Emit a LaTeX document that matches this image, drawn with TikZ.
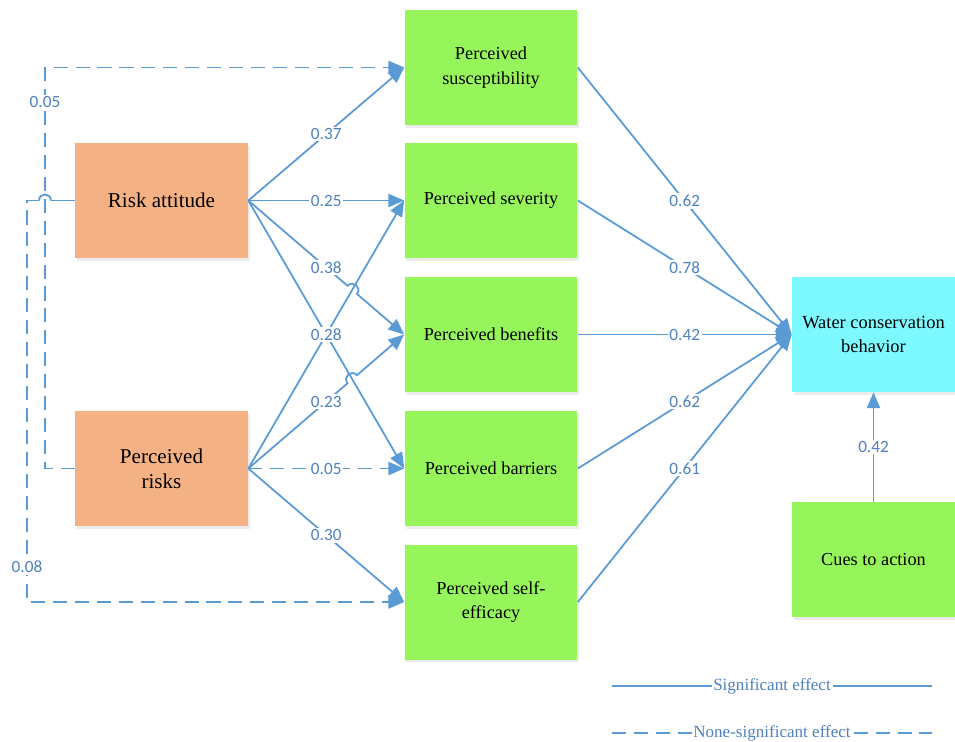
\documentclass[tikz,border=0pt]{standalone}
\usepackage{fontspec}
\setmainfont{Liberation Serif}
\newfontfamily\numfont{Carlito}
\usetikzlibrary{arrows.meta,calc,shadows}
\definecolor{peach}{RGB}{244,177,131}
\definecolor{lime}{RGB}{150,245,90}
\definecolor{aqua}{RGB}{125,250,255}
\definecolor{edge}{RGB}{91,155,213}
\definecolor{numblue}{RGB}{79,129,189}
\tikzset{
  cell/.style={minimum width=3.46cm, minimum height=2.3cm, align=center, inner sep=2pt,
    drop shadow={shadow xshift=1pt, shadow yshift=-1.5pt, opacity=0.15}},
  factor/.style={cell, fill=peach, font=\fontsize{12}{14}\selectfont},
  belief/.style={cell, fill=lime, font=\fontsize{10.4}{14}\selectfont},
  outcome/.style={cell, fill=aqua, minimum width=3.26cm, font=\fontsize{10.5}{14}\selectfont},
  link/.style={draw=edge, line width=1pt},
  sig/.style={link, -{Triangle[length=9pt,width=7.5pt]}},
  nsig/.style={sig, dash pattern=on 8pt off 4.5pt},
  hop/.style={link, looseness=1.7},
  coef/.style={fill=white, inner sep=1pt, text=numblue, font=\numfont\fontsize{9.8}{11}\selectfont},
  legend/.style={fill=white, inner sep=1pt, text=numblue, font=\fontsize{9.7}{11}\selectfont},
}
\begin{document}
\begin{tikzpicture}[x=0.02cm, y=-0.02cm]
  \useasboundingbox (0,0) rectangle (955,741);
  \fill[white] (0,0) rectangle (955,741);
  % boxes
  \node[factor] (ra) at (161.5,200.5) {Risk attitude};
  \node[factor] (pr) at (161.5,468.5) {Perceived\\risks};
  \node[belief] (sus) at (491,67.5) {Perceived\\susceptibility};
  \node[belief] (sev) at (491,200.5) {Perceived severity};
  \node[belief] (ben) at (491,334.5) {Perceived benefits};
  \node[belief] (bar) at (491,468.5) {Perceived barriers};
  \node[belief] (eff) at (491,602) {Perceived self-\\efficacy};
  \node[outcome] (wcb) at (873.5,334.5) {Water conservation\\behavior};
  \node[belief, minimum width=3.26cm] (cue) at (873.5,559.5) {Cues to action};
  % corners of the dashed paths
  \coordinate (c1) at (45,468.5);
  \coordinate (c2) at (45,67.5);
  \coordinate (c3) at (27,200.5);
  \coordinate (c4) at (27,602);
  \coordinate (h1) at (51,200.5);
  \coordinate (h2) at (39,200.5);
  % crossings with a hop
  \coordinate (x1) at (intersection of ra.east--ben.west and pr.east--sev.west);
  \coordinate (x2) at (intersection of pr.east--ben.west and ra.east--bar.west);
  \begin{scope}
    \draw[sig] (ra.east) to node[coef]{0.37} (sus.west);
    \draw[sig] (ra.east) to node[coef]{0.25} (sev.west);
    \draw[sig] (pr.east) to (sev.west);
    \draw[sig] (ra.east) to node[coef]{0.28} (bar.west);
    \draw[sig] (ra.east) -- ($(x1)!3.5pt!(ra.east)$) to[bend left=90, looseness=1.7] ($(x1)!3.5pt!(ben.west)$) -- (ben.west);
    \draw[sig] (pr.east) -- ($(x2)!3.5pt!(pr.east)$) to[bend left=90, looseness=1.7] ($(x2)!3.5pt!(ben.west)$) -- (ben.west);
    \node[coef] at ($(ra.east)!0.5!(ben.west)$) {0.38};
    \node[coef] at ($(pr.east)!0.5!(ben.west)$) {0.23};
    \draw[nsig] (pr.east) to node[coef]{0.05} (bar.west);
    \draw[sig] (pr.east) to node[coef]{0.30} (eff.west);
    \draw[nsig] (pr.west) -- (c1) -- node[coef, pos=0.913]{0.05} (c2) -- (sus.west);
    \draw[link] (ra.west) -- (h1);
    \draw[hop] (h1) to[bend right=90] (h2);
    \draw[nsig] (h2) -- (c3) -- node[coef, pos=0.913]{0.08} (c4) -- (eff.west);
    \draw[sig] (sus.east) to node[coef]{0.62} (wcb.west);
    \draw[sig] (sev.east) to node[coef]{0.78} (wcb.west);
    \draw[sig] (ben.east) to node[coef]{0.42} (wcb.west);
    \draw[sig] (bar.east) to node[coef]{0.62} (wcb.west);
    \draw[sig] (eff.east) to node[coef]{0.61} (wcb.west);
    \draw[sig] (cue.north) to node[coef]{0.42} (wcb.south);
  \end{scope}
  % legend
  \coordinate (l1) at (612,686);
  \coordinate (l2) at (932,686);
  \coordinate (l3) at (612,733);
  \coordinate (l4) at (932,733);
  \draw[link] (l1) -- node[legend]{Significant effect} (l2);
  \draw[link, dash pattern=on 8pt off 4.5pt] (l3) -- node[legend]{None-significant effect} (l4);
\end{tikzpicture}
\end{document}
